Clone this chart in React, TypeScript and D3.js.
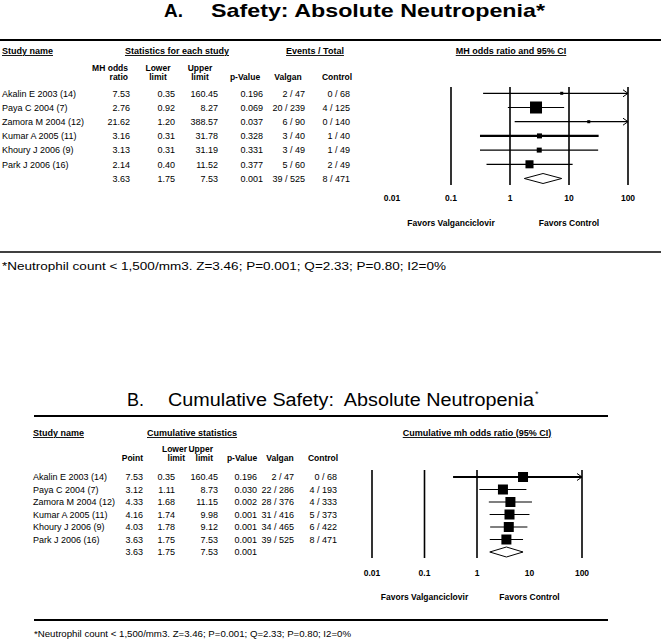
import React from "react";
import * as d3 from "d3";

// ---- data ----
const studies = [
  "Akalin E 2003 (14)",
  "Paya C 2004 (7)",
  "Zamora M 2004 (12)",
  "Kumar A 2005 (11)",
  "Khoury J 2006 (9)",
  "Park J 2006 (16)",
];

// panel A: per-study
const orA = [7.53, 2.76, 21.62, 3.16, 3.13, 2.14];
const lowerA = [0.35, 0.92, 1.2, 0.31, 0.31, 0.4];
const upperA = [160.45, 8.27, 388.57, 31.78, 31.19, 11.52];
const pA = ["0.196", "0.069", "0.037", "0.328", "0.331", "0.377"];
const valganA = ["2 / 47", "20 / 239", "6 / 90", "3 / 40", "3 / 49", "5 / 60"];
const controlA = ["0 / 68", "4 / 125", "0 / 140", "1 / 40", "1 / 49", "2 / 49"];
const weightA = [3.3, 52, 3.3, 9, 9, 23.4];
const summaryA = [3.63, 1.75, 7.53];
const summaryTextA = ["3.63", "1.75", "7.53", "0.001", "39 / 525", "8 / 471"];

// panel B: cumulative
const orB = [7.53, 3.12, 4.33, 4.16, 4.03, 3.63];
const lowerB = [0.35, 1.11, 1.68, 1.74, 1.78, 1.75];
const upperB = [160.45, 8.73, 11.15, 9.98, 9.12, 7.53];
const pB = ["0.196", "0.030", "0.002", "0.001", "0.001", "0.001"];
const valganB = ["2 / 47", "22 / 286", "28 / 376", "31 / 416", "34 / 465", "39 / 525"];
const controlB = ["0 / 68", "4 / 193", "4 / 333", "5 / 373", "6 / 422", "8 / 471"];
const summaryB = [3.63, 1.75, 7.53];
const summaryTextB = ["3.63", "1.75", "7.53", "0.001"];

const tickValues = [0.01, 0.1, 1, 10, 100];
const tickLabels = ["0.01", "0.1", "1", "10", "100"];
const gridA = [0.1, 1, 10, 100];
const gridB = [0.01, 0.1, 1, 100];

const footnote = "*Neutrophil count < 1,500/mm3. Z=3.46; P=0.001; Q=2.33; P=0.80; I2=0%";

const FONT = "'Liberation Sans', Arial, Helvetica, sans-serif";
const fmt = (v: number) => v.toFixed(2);

type ForestProps = {
  x: d3.ScaleLogarithmic<number, number>;
  y: d3.ScaleLinear<number, number>;
  or: number[];
  lower: number[];
  upper: number[];
  sizes: number[];
  thick: number[];
  summary: number[];
  grid: number[];
  top: number;
  bottom: number;
  tickY: number;
  favY: number;
};

function Forest(p: ForestProps) {
  const [dMin, dMax] = p.x.domain();
  const sy = p.y(p.or.length);
  const [sOr, sLo, sUp] = p.summary;
  return (
    <g>
      {p.grid.map((v) => (
        <line key={v} x1={p.x(v)} x2={p.x(v)} y1={p.top} y2={p.bottom} stroke="#000" strokeWidth={1.6} />
      ))}
      {tickValues.map((v, i) => (
        <text key={v} x={p.x(v)} y={p.tickY} fontSize={8.5} fontWeight="bold" textAnchor="middle">
          {tickLabels[i]}
        </text>
      ))}
      <text x={p.x(0.1)} y={p.favY} fontSize={8.5} fontWeight="bold" textAnchor="middle">Favors Valganciclovir</text>
      <text x={p.x(10)} y={p.favY} fontSize={8.5} fontWeight="bold" textAnchor="middle">Favors Control</text>
      {p.or.map((v, i) => {
        const yy = p.y(i);
        const x1 = p.x(Math.max(p.lower[i], dMin));
        const x2 = p.x(Math.min(p.upper[i], dMax));
        const s = p.sizes[i];
        const sw = p.thick.includes(i) ? 2.2 : 1.2;
        return (
          <g key={i}>
            <line x1={x1} x2={x2} y1={yy} y2={yy} stroke="#000" strokeWidth={sw} />
            {p.upper[i] > dMax && (
              <path d={`M${x2 - 5},${yy - 3.5}L${x2},${yy}L${x2 - 5},${yy + 3.5}`} fill="none" stroke="#000" strokeWidth={1} />
            )}
            <rect x={p.x(v) - s / 2} y={yy - s / 2} width={s} height={s} fill="#000" />
          </g>
        );
      })}
      <path
        d={`M${p.x(sLo)},${sy}L${p.x(sOr)},${sy - 5}L${p.x(sUp)},${sy}L${p.x(sOr)},${sy + 5}Z`}
        fill="#fff"
        stroke="#000"
        strokeWidth={1}
      />
    </g>
  );
}

export default function App() {
  // panel A layout
  const xA = d3.scaleLog().domain([0.01, 100]).range([392, 628]);
  const yA = d3.scaleLinear().domain([0, 6]).range([93.3, 178.5]);
  const sizeA = d3.scaleSqrt().domain([0, d3.max(weightA) as number]).range([0, 12]);

  // panel B layout
  const xB = d3.scaleLog().domain([0.01, 100]).range([372, 582]);
  const yB = d3.scaleLinear().domain([0, 6]).range([477, 552]);

  const colsA = [130, 175, 218, 263, 305, 350];
  const colsB = [143, 175, 218, 257, 294, 337];
  const rowsA = studies.map((_, i) => [fmt(orA[i]), fmt(lowerA[i]), fmt(upperA[i]), pA[i], valganA[i], controlA[i]]);
  const rowsB = studies.map((_, i) => [fmt(orB[i]), fmt(lowerB[i]), fmt(upperB[i]), pB[i], valganB[i], controlB[i]]);

  const hdr = { fontSize: 9, fontWeight: "bold" as const };
  const colHdr = { fontSize: 8.5, fontWeight: "bold" as const };
  const ul = { textDecoration: "underline" };

  return (
    <svg
      width={661}
      height={639}
      style={{ position: "absolute", left: 0, top: 0, background: "#fff" }}
      fontFamily={FONT}
    >
      <rect width={661} height={639} fill="#fff" />

      {/* ---------- Panel A ---------- */}
      <text x={164} y={17} fontSize={19} fontWeight="bold">A.</text>
      <text x={211} y={17} fontSize={19} fontWeight="bold" textLength={334} lengthAdjust="spacingAndGlyphs">
        Safety: Absolute Neutropenia*
      </text>
      <line x1={0} x2={661} y1={40} y2={40} stroke="#000" strokeWidth={2} />

      <text x={2} y={54} {...hdr} style={ul}>Study name</text>
      <text x={177} y={54} {...hdr} textAnchor="middle" style={ul}>Statistics for each study</text>
      <text x={315} y={54} {...hdr} textAnchor="middle" style={ul}>Events / Total</text>
      <text x={511} y={54} {...hdr} textAnchor="middle" style={ul}>MH odds ratio and 95% CI</text>

      <g {...colHdr}>
        <text x={128} y={71} textAnchor="end">MH odds</text>
        <text x={128} y={80} textAnchor="end">ratio</text>
        <text x={158} y={71} textAnchor="middle">Lower</text>
        <text x={158} y={80} textAnchor="middle">limit</text>
        <text x={200} y={71} textAnchor="middle">Upper</text>
        <text x={200} y={80} textAnchor="middle">limit</text>
        <text x={245} y={80} textAnchor="middle">p-Value</text>
        <text x={288} y={80} textAnchor="middle">Valgan</text>
        <text x={337} y={80} textAnchor="middle">Control</text>
      </g>

      <g fontSize={9}>
        {studies.map((s, i) => (
          <text key={s} x={2} y={yA(i) + 3.3}>{s}</text>
        ))}
        {rowsA.map((r, i) =>
          r.map((c, j) => (
            <text key={i + "-" + j} x={colsA[j]} y={yA(i) + 3.3} textAnchor="end">{c}</text>
          ))
        )}
        {summaryTextA.map((c, j) => (
          <text key={"sa" + j} x={colsA[j]} y={yA(6) + 3.3} textAnchor="end">{c}</text>
        ))}
      </g>

      <Forest
        x={xA}
        y={yA}
        or={orA}
        lower={lowerA}
        upper={upperA}
        sizes={weightA.map((w) => Math.max(3, sizeA(w)))}
        thick={[3]}
        summary={summaryA}
        grid={gridA}
        top={87}
        bottom={185}
        tickY={201}
        favY={226}
      />

      <line x1={0} x2={661} y1={252} y2={252} stroke="#000" strokeWidth={1.5} />
      <text x={2} y={269.5} fontSize={11.5} textLength={444} lengthAdjust="spacingAndGlyphs">{footnote}</text>

      {/* ---------- Panel B ---------- */}
      <text x={127} y={406} fontSize={18}>B.</text>
      <text x={168} y={406} fontSize={18} textLength={366} lengthAdjust="spacingAndGlyphs" style={{ whiteSpace: "pre" }}>
        Cumulative Safety:  Absolute Neutropenia
      </text>
      <text x={535} y={397} fontSize={9}>*</text>
      <line x1={34} x2={608} y1={416} y2={416} stroke="#000" strokeWidth={1.8} />

      <text x={33} y={436} {...hdr} style={ul}>Study name</text>
      <text x={147} y={436} {...hdr} style={ul}>Cumulative statistics</text>
      <text x={477} y={436} {...hdr} textAnchor="middle" style={ul}>Cumulative mh odds ratio (95% CI)</text>

      <g {...colHdr}>
        <text x={143} y={461} textAnchor="end">Point</text>
        <text x={187} y={452} textAnchor="end">Lower</text>
        <text x={185} y={461} textAnchor="end">limit</text>
        <text x={213} y={452} textAnchor="end">Upper</text>
        <text x={213} y={461} textAnchor="end">limit</text>
        <text x={242} y={461} textAnchor="middle">p-Value</text>
        <text x={280} y={461} textAnchor="middle">Valgan</text>
        <text x={323} y={461} textAnchor="middle">Control</text>
      </g>

      <g fontSize={9}>
        {studies.map((s, i) => (
          <text key={s} x={33} y={yB(i) + 3.3}>{s}</text>
        ))}
        {rowsB.map((r, i) =>
          r.map((c, j) => (
            <text key={i + "-" + j} x={colsB[j]} y={yB(i) + 3.3} textAnchor="end">{c}</text>
          ))
        )}
        {summaryTextB.map((c, j) => (
          <text key={"sb" + j} x={colsB[j]} y={yB(6) + 3.3} textAnchor="end">{c}</text>
        ))}
      </g>

      <Forest
        x={xB}
        y={yB}
        or={orB}
        lower={lowerB}
        upper={upperB}
        sizes={orB.map(() => 10)}
        thick={[0]}
        summary={summaryB}
        grid={gridB}
        top={470}
        bottom={558}
        tickY={576}
        favY={600}
      />

      <line x1={34} x2={608} y1={620} y2={620} stroke="#000" strokeWidth={1.8} />
      <text x={34} y={637} fontSize={9.5} textLength={317} lengthAdjust="spacingAndGlyphs">{footnote}</text>
    </svg>
  );
}
